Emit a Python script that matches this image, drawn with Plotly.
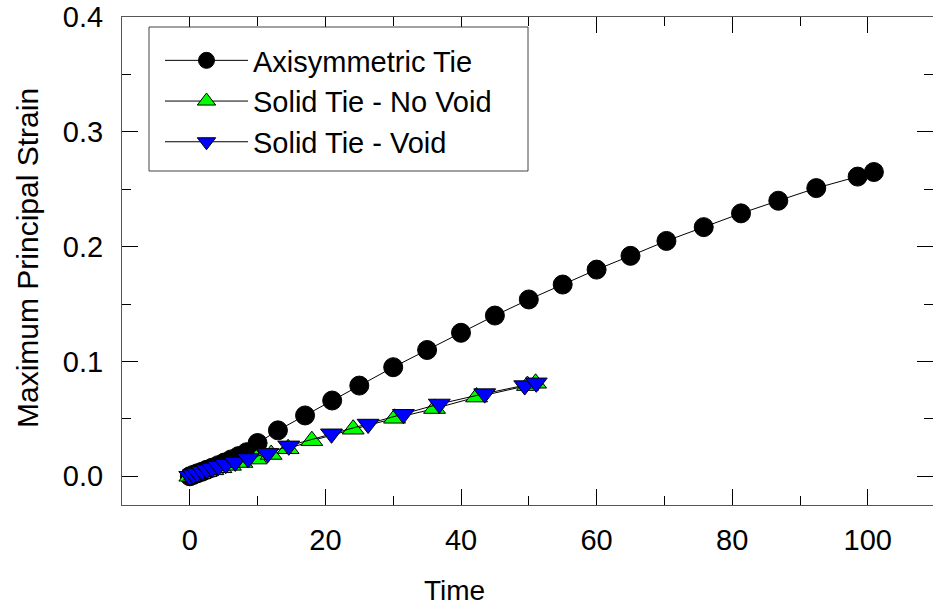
import plotly.graph_objects as go

# ---- data ----
axi_time = [0, 0.5, 1.1, 1.8, 2.5, 3.3, 4.2, 5.1, 6.1, 7.2, 8.4, 10.0, 13.0, 17.0, 21.0,
            25.0, 30.0, 35.0, 40.0, 45.0, 50.0, 55.0, 60.0, 65.0, 70.3, 75.8, 81.3,
            86.8, 92.4, 98.5, 100.9]
axi_strain = [0, 0.0012, 0.0026, 0.004, 0.0057, 0.0075, 0.0097, 0.012, 0.0147, 0.0176,
              0.021, 0.029, 0.040, 0.053, 0.066, 0.079, 0.095, 0.110, 0.125, 0.140,
              0.154, 0.167, 0.180, 0.192, 0.205, 0.217, 0.229, 0.240, 0.251, 0.261, 0.265]

novoid_time = [0, 0.7, 1.5, 2.4, 3.4, 4.6, 6.0, 7.7, 9.8, 12.0, 14.5, 18.0, 24.1, 30.2,
               36.1, 42.3, 49.8, 51.0]
novoid_strain = [0, 0.0012, 0.0026, 0.004, 0.0056, 0.0074, 0.0095, 0.012, 0.015, 0.019,
                 0.024, 0.031, 0.041, 0.0505, 0.059, 0.069, 0.079, 0.081]

void_time = [0, 0.5, 1.1, 1.8, 2.5, 3.3, 4.2, 5.3, 6.7, 8.6, 11.5, 14.6, 20.9, 26.3,
             31.5, 36.8, 43.5, 49.4, 51.1]
void_strain = [0, 0.0013, 0.0028, 0.0044, 0.0058, 0.0072, 0.0088, 0.0105, 0.0125, 0.0155,
               0.020, 0.0265, 0.037, 0.0455, 0.054, 0.063, 0.072, 0.079, 0.0814]

series_names = ["Axisymmetric Tie", "Solid Tie - No Void", "Solid Tie - Void"]
x_ticks = [0, 20, 40, 60, 80, 100]
y_ticks = [0.0, 0.1, 0.2, 0.3, 0.4]
y_tick_text = ["0.0", "0.1", "0.2", "0.3", "0.4"]

FONT = "Liberation Sans, Arial, sans-serif"
W, H = 933, 611
L, R, T, B = 122, 0, 17, 106
PW, PH = W - L - R, H - T - B
px_per_x = 6.78
x_range = [-10, -10 + PW / px_per_x]
y_range = [-0.025, 0.4]


def px(xp):
    return (xp - L) / PW


def py(yp):
    return 1 - (yp - T) / PH


fig = go.Figure()
fig.add_trace(go.Scatter(
    x=axi_time, y=axi_strain, name=series_names[0], mode="lines+markers",
    line=dict(color="black", width=1),
    marker=dict(symbol="circle", size=19, color="black", line=dict(color="black", width=1)),
    legendgroup="a"))
fig.add_trace(go.Scatter(
    x=novoid_time, y=novoid_strain, name=series_names[1], mode="lines+markers",
    line=dict(color="black", width=1),
    marker=dict(symbol="triangle-up", size=19, color="#00ff00", line=dict(color="black", width=1)),
    legendgroup="b"))
fig.add_trace(go.Scatter(
    x=void_time, y=void_strain, name=series_names[2], mode="lines+markers",
    line=dict(color="black", width=1),
    marker=dict(symbol="triangle-down", size=19, color="#0000ff", line=dict(color="black", width=1)),
    legendgroup="c"))
# empty helper trace so the right-hand tick axis is drawn
fig.add_trace(go.Scatter(x=[None], y=[None], yaxis="y2", showlegend=False, hoverinfo="skip"))

TICKF = dict(family=FONT, size=29, color="black")
fig.update_layout(
    width=W, height=H,
    margin=dict(l=L, r=R, t=T, b=B, pad=0),
    paper_bgcolor="white", plot_bgcolor="white",
    font=dict(family=FONT, size=29, color="black"),
    showlegend=True,
    legend=dict(
        x=px(160), y=py(35),
        xanchor="left", yanchor="top",
        bgcolor="rgba(0,0,0,0)", borderwidth=0,
        font=dict(family=FONT, size=29, color="black"),
        itemwidth=83, tracegroupgap=3, traceorder="normal",
    ),
    xaxis=dict(
        range=x_range, showgrid=False, zeroline=False,
        showline=True, linecolor="#555", linewidth=1, mirror="ticks",
        ticks="inside", ticklen=16, tickcolor="black", tickwidth=1,
        tickvals=x_ticks, ticklabelstandoff=9,
        minor=dict(ticks="inside", ticklen=9, tickcolor="black", dtick=10, tick0=0, showgrid=False),
        tickfont=TICKF,
    ),
    yaxis=dict(
        range=y_range, showgrid=False, zeroline=False,
        showline=True, linecolor="#555", linewidth=1, mirror=False,
        ticks="inside", ticklen=16, tickcolor="black", tickwidth=1,
        tickvals=y_ticks, ticktext=y_tick_text, ticklabelstandoff=12,
        minor=dict(ticks="inside", ticklen=9, tickcolor="black", dtick=0.05, tick0=0, showgrid=False),
        tickfont=TICKF,
    ),
    yaxis2=dict(
        range=y_range, overlaying="y", side="right", anchor="x",
        showgrid=False, zeroline=False, showline=False, showticklabels=False,
        ticks="inside", ticklen=16, tickcolor="black", tickwidth=1,
        tickvals=y_ticks,
        minor=dict(ticks="inside", ticklen=9, tickcolor="black", dtick=0.05, tick0=0, showgrid=False),
    ),
    shapes=[
        dict(type="rect", xref="paper", yref="paper",
             x0=px(149), x1=px(528), y0=py(171), y1=py(27),
             line=dict(color="#444", width=1), fillcolor="white", layer="above"),
    ],
    annotations=[
        dict(text="Time", x=px(454), y=py(590), xref="paper", yref="paper", showarrow=False,
             xanchor="center", yanchor="middle", font=dict(family=FONT, size=28)),
        dict(text="Maximum Principal Strain", x=px(27), y=py(258), xref="paper", yref="paper",
             showarrow=False, textangle=-90, xanchor="center", yanchor="middle",
             font=dict(family=FONT, size=30)),
    ],
)

fig.write_html("out.html")
